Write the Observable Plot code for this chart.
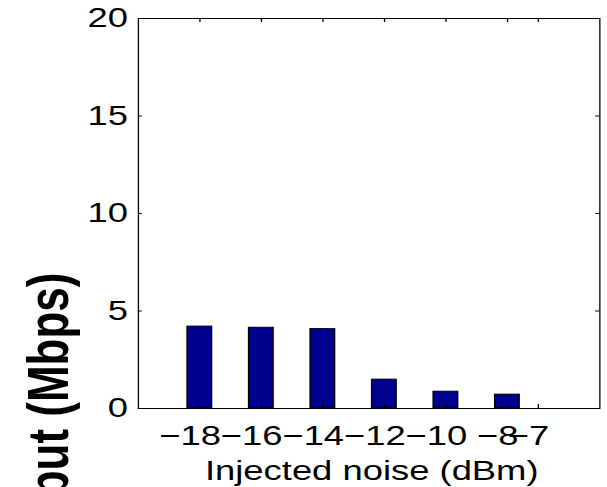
<!DOCTYPE html>
<html><head><meta charset="utf-8">
<script src="https://cdn.jsdelivr.net/npm/d3@7"></script>
<script src="https://cdn.jsdelivr.net/npm/@observablehq/plot@0.6"></script>
<style>
html,body{margin:0;padding:0;background:#fff;overflow:hidden;}
#chart{width:607px;height:487px;overflow:hidden;}
</style></head><body><div id="chart"></div>
<script>
const noiseLevels = [-18, -16, -14, -12, -10, -8, -7];
const throughput = [4.2, 4.14, 4.07, 1.48, 0.86, 0.71, 0];
const xTickValues = [-18, -16, -14, -12, -10, -8, -7];
const yTickValues = [0, 5, 10, 15, 20];
const xLabel = "Injected noise (dBm)";
const yLabel = "Throughput (Mbps)";

const STRETCH = 1.3;
const W = 607, H = 487;
const w = Math.round(W / STRETCH);
const mLeft = 106, mRight = 6, mTop = 18, mBottom = 79;
const frameW = w - mLeft - mRight, frameH = H - mTop - mBottom;
const tick = 4;
const halfBar = 0.4;

const data = noiseLevels.map((x, i) => ({x, v: throughput[i]})).filter(d => d.v > 0);

const plot = Plot.plot({
  width: w, height: H,
  marginLeft: mLeft, marginRight: mRight, marginTop: mTop, marginBottom: mBottom,
  style: {fontFamily: "'Liberation Sans', Arial, Helvetica, sans-serif", fontSize: "28px", color: "#000", background: "#fff"},
  x: {domain: [-20, -5]},
  y: {domain: [0, 20]},
  marks: [
    Plot.rectY(data, {x1: d => d.x - halfBar, x2: d => d.x + halfBar, y1: 0, y2: "v", fill: "#00008f", stroke: "#000", strokeWidth: 1}),
    Plot.tickX(xTickValues, {x: d => d, insetTop: frameH - tick, stroke: "#000"}),
    Plot.tickX(xTickValues, {x: d => d, insetBottom: frameH - tick, stroke: "#000"}),
    Plot.tickY(yTickValues, {y: d => d, insetRight: frameW - tick / STRETCH, stroke: "#000"}),
    Plot.tickY(yTickValues, {y: d => d, insetLeft: frameW - tick / STRETCH, stroke: "#000"}),
    Plot.frame({stroke: "#000", strokeWidth: 1}),
    Plot.axisX(xTickValues, {anchor: "bottom", tickSize: 0, tickPadding: 17, dx: -7.5, label: null, fontSize: 28}),
    Plot.axisY(yTickValues, {anchor: "left", tickSize: 0, tickPadding: 8, label: null, fontSize: 28}),
    Plot.text([xLabel], {frameAnchor: "bottom", lineAnchor: "top", dy: 52, dx: 2, fontSize: 28}),
    Plot.text([yLabel], {frameAnchor: "left", rotate: -90, textAnchor: "end", dx: -68, dy: 272 - (mTop + frameH / 2), fontSize: 44, fontWeight: "bold"})
  ]
});
plot.setAttribute("viewBox", `0 0 ${w} ${H}`);
plot.setAttribute("width", W);
plot.setAttribute("height", H);
plot.setAttribute("preserveAspectRatio", "none");
plot.style.width = W + "px";
plot.style.height = H + "px";
plot.style.maxWidth = "none";
plot.style.overflow = "hidden";
document.getElementById("chart").appendChild(plot);
</script></body></html>
